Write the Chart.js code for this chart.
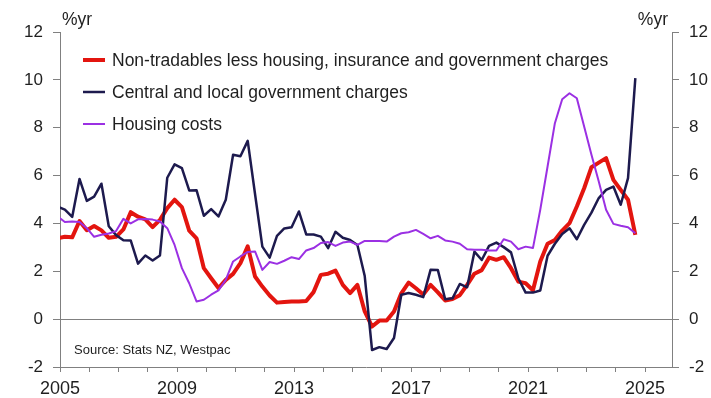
<!DOCTYPE html>
<html>
<head>
<meta charset="utf-8">
<title>Non-tradables inflation</title>
<script src="https://cdn.jsdelivr.net/npm/chart.js@4.4.1/dist/chart.umd.min.js"></script>
<style>
  html, body { margin: 0; padding: 0; background: #fff; }
</style>
</head>
<body>
<canvas id="chart" width="711" height="398"></canvas>
<script>
// Annual % change, quarterly, Dec 2004 to Sep 2024
const nonTradables = [
  3.38, 3.44, 3.42, 4.10, 3.72, 3.89, 3.71, 3.40, 3.44, 3.75,
  4.47, 4.28, 4.17, 3.85, 4.15, 4.64, 4.99, 4.68, 3.70, 3.38,
  2.13, 1.71, 1.30, 1.64, 1.89, 2.34, 3.04, 1.78, 1.36, 0.99,
  0.69, 0.72, 0.74, 0.74, 0.76, 1.13, 1.85, 1.90, 2.03, 1.43,
  1.09, 1.43, 0.32, -0.31, -0.06, -0.06, 0.32, 1.08, 1.53, 1.29,
  1.03, 1.43, 1.12, 0.78, 0.84, 1.00, 1.43, 1.90, 2.05, 2.57,
  2.48, 2.59, 2.13, 1.57, 1.50, 1.21, 2.41, 3.15, 3.31, 3.70,
  4.01, 4.71, 5.47, 6.35, 6.54, 6.73, 5.82, 5.40, 4.99, 3.52
];
const govtCharges = [
  4.70, 4.58, 4.27, 5.86, 4.94, 5.12, 5.66, 3.88, 3.51, 3.30,
  3.29, 2.32, 2.66, 2.45, 2.66, 5.91, 6.47, 6.31, 5.38, 5.39,
  4.32, 4.60, 4.29, 4.99, 6.87, 6.81, 7.45, 5.23, 3.03, 2.57,
  3.48, 3.79, 3.84, 4.50, 3.54, 3.54, 3.45, 2.97, 3.65, 3.40,
  3.31, 3.10, 1.80, -1.29, -1.17, -1.25, -0.79, 1.02, 1.09, 1.02,
  0.92, 2.06, 2.05, 0.83, 0.87, 1.47, 1.33, 2.82, 2.47, 3.06,
  3.20, 3.01, 2.79, 1.71, 1.11, 1.11, 1.20, 2.65, 3.15, 3.56,
  3.80, 3.34, 3.94, 4.45, 5.06, 5.40, 5.54, 4.78, 5.89, 10.07
];
const housingCosts = [
  4.30, 4.06, 4.08, 4.06, 3.80, 3.44, 3.53, 3.58, 3.68, 4.19,
  4.00, 4.17, 4.19, 4.16, 4.08, 3.80, 3.10, 2.13, 1.50, 0.74,
  0.81, 1.02, 1.20, 1.64, 2.41, 2.62, 2.81, 2.83, 2.06, 2.39,
  2.31, 2.44, 2.59, 2.51, 2.87, 2.97, 3.18, 3.22, 3.06, 3.20,
  3.24, 3.10, 3.27, 3.27, 3.27, 3.24, 3.45, 3.59, 3.63, 3.73,
  3.56, 3.38, 3.48, 3.29, 3.24, 3.15, 2.92, 2.90, 2.90, 2.87,
  2.87, 3.34, 3.24, 2.92, 3.03, 2.97, 4.57, 6.38, 8.19, 9.19,
  9.44, 9.23, 8.05, 6.87, 5.75, 4.57, 3.98, 3.90, 3.84, 3.59
];
const seriesNames = [
  'Non-tradables less housing, insurance and government charges',
  'Central and local government charges',
  'Housing costs'
];
const yearLabels = [2005, 2009, 2013, 2017, 2021, 2025];

// quarter-end months placed as year + (month - 1) / 12, starting Dec 2004
const quarters = nonTradables.map((_, i) => 2004 + 11 / 12 + i / 4);
const toPoints = vals => vals.map((v, i) => ({ x: quarters[i], y: v }));

const FONT = '"Liberation Sans", Arial, sans-serif';
const AXIS = '#808080';
const TEXT = '#1f1f1f';

// legend, unit labels and source note drawn over the plot
const annotations = {
  id: 'annotations',
  afterDraw(chart) {
    const { ctx, chartArea } = chart;
    ctx.save();
    ctx.font = '17.5px ' + FONT;
    ctx.textBaseline = 'middle';
    chart.data.datasets.forEach((ds, i) => {
      const y = chartArea.top + 28 + i * 32;
      ctx.strokeStyle = ds.borderColor;
      ctx.lineWidth = ds.borderWidth;
      ctx.beginPath();
      ctx.moveTo(chartArea.left + 23, y);
      ctx.lineTo(chartArea.left + 45, y);
      ctx.stroke();
      ctx.fillStyle = TEXT;
      ctx.textAlign = 'left';
      ctx.fillText(ds.label, chartArea.left + 52, y + 1);
    });

    ctx.font = '17.5px ' + FONT;
    ctx.textBaseline = 'alphabetic';
    ctx.textAlign = 'left';
    ctx.fillText('%yr', chartArea.left + 2, 25);
    ctx.textAlign = 'right';
    ctx.fillText('%yr', chartArea.right - 4, 25);

    ctx.font = '13px ' + FONT;
    ctx.textAlign = 'left';
    ctx.textBaseline = 'middle';
    ctx.fillText('Source: Stats NZ, Westpac', chartArea.left + 14, 350);
    ctx.restore();
  }
};

new Chart(document.getElementById('chart'), {
  type: 'line',
  data: {
    datasets: [
      { label: seriesNames[0], data: toPoints(nonTradables), borderColor: '#e3150f', borderWidth: 4, order: 2 },
      { label: seriesNames[1], data: toPoints(govtCharges), borderColor: '#1d1a4e', borderWidth: 2.5, order: 1 },
      { label: seriesNames[2], data: toPoints(housingCosts), borderColor: '#9b30e3', borderWidth: 2, order: 0 }
    ]
  },
  options: {
    responsive: false,
    devicePixelRatio: 1,
    animation: false,
    layout: { padding: { top: 32, left: 0, right: 0, bottom: 0 } },
    elements: {
      point: { radius: 0 },
      line: { tension: 0, fill: false, borderJoinStyle: 'round', borderCapStyle: 'butt' }
    },
    datasets: { line: { clip: 0 } },
    plugins: { legend: { display: false }, tooltip: { enabled: false } },
    scales: {
      x: {
        type: 'linear',
        min: 2005,
        max: 2025.92,
        afterFit: s => { s.height = 31; },
        border: { display: true, color: AXIS, width: 1 },
        grid: { drawOnChartArea: false, drawTicks: true, tickLength: 5, color: AXIS },
        ticks: {
          stepSize: 1,
          includeBounds: false,
          autoSkip: false,
          maxRotation: 0,
          padding: 6,
          color: TEXT,
          font: { family: FONT, size: 18 },
          callback: v => yearLabels.includes(Math.round(v)) ? String(Math.round(v)) : ''
        }
      },
      y: {
        position: 'left',
        min: -2,
        max: 12,
        afterFit: s => { s.width = 60; },
        border: { display: true, color: AXIS, width: 1 },
        grid: {
          drawOnChartArea: true,
          tickLength: 7,
          tickColor: AXIS,
          color: c => c.tick && c.tick.value === 0 ? AXIS : 'rgba(0,0,0,0)'
        },
        ticks: { stepSize: 2, padding: 10, color: TEXT, font: { family: FONT, size: 17 } }
      },
      y2: {
        position: 'right',
        min: -2,
        max: 12,
        afterFit: s => { s.width = 39; },
        border: { display: true, color: AXIS, width: 1 },
        grid: { drawOnChartArea: false, tickLength: 7, color: AXIS },
        ticks: { stepSize: 2, padding: 10, color: TEXT, font: { family: FONT, size: 17 } }
      }
    }
  },
  plugins: [annotations]
});
</script>
</body>
</html>
